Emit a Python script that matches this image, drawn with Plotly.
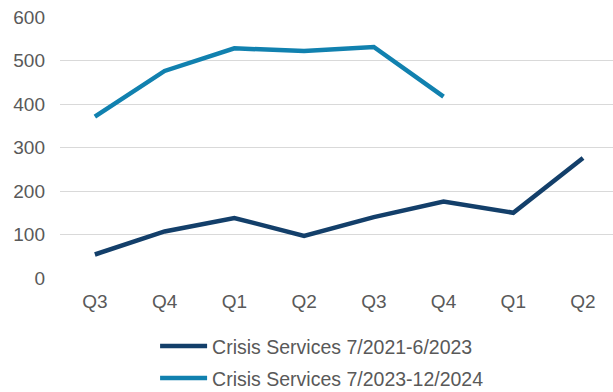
import plotly.graph_objects as go

# Quarter labels along the x axis (fiscal quarters, two consecutive years)
quarters = ["Q3", "Q4", "Q1", "Q2", "Q3", "Q4", "Q1", "Q2"]

# Crisis Services counts per quarter
series_a_name = "Crisis Services 7/2021-6/2023"
series_a = [54, 107, 138, 97, 140, 176, 150, 276]

series_b_name = "Crisis Services 7/2023-12/2024"
series_b = [371, 476, 528, 522, 531, 417]

y_ticks = [0, 100, 200, 300, 400, 500, 600]

NAVY = "#133F6A"
TEAL = "#1181AF"
TEXT = "#595959"
FONT = "Liberation Sans, Arial, sans-serif"

pos_a = list(range(len(series_a)))
pos_b = list(range(len(series_b)))

fig = go.Figure()
fig.add_trace(go.Scatter(
    x=pos_a, y=series_a, mode="lines", name=series_a_name,
    line=dict(color=NAVY, width=4.5), legendgroup="a",
))
fig.add_trace(go.Scatter(
    x=pos_b, y=series_b, mode="lines", name=series_b_name,
    line=dict(color=TEAL, width=4.5), legendgroup="b",
))

fig.update_layout(
    width=613, height=392,
    margin=dict(l=60, r=0, t=17, b=113.5, autoexpand=False),
    paper_bgcolor="white", plot_bgcolor="white",
    font=dict(family=FONT, size=19, color=TEXT),
    showlegend=True,
    legend=dict(
        orientation="v", xref="container", x=0.253, xanchor="left",
        yref="container", y=0.166, yanchor="top",
        font=dict(family=FONT, size=19.5, color=TEXT),
        tracegroupgap=3.5, itemwidth=47, bgcolor="rgba(0,0,0,0)",
    ),
)
fig.update_xaxes(
    tickmode="array", tickvals=list(range(len(quarters))), ticktext=quarters,
    range=[-0.5, 7.43], showgrid=False, zeroline=False, showline=False,
    ticks="", ticklabelstandoff=10,
)
fig.update_yaxes(
    range=[0, 600], tickmode="array", tickvals=y_ticks,
    showgrid=True, gridcolor="#D9D9D9", gridwidth=1.3,
    zeroline=False, showline=False, ticks="", ticklabelstandoff=14,
)

fig.write_html("out.html")
